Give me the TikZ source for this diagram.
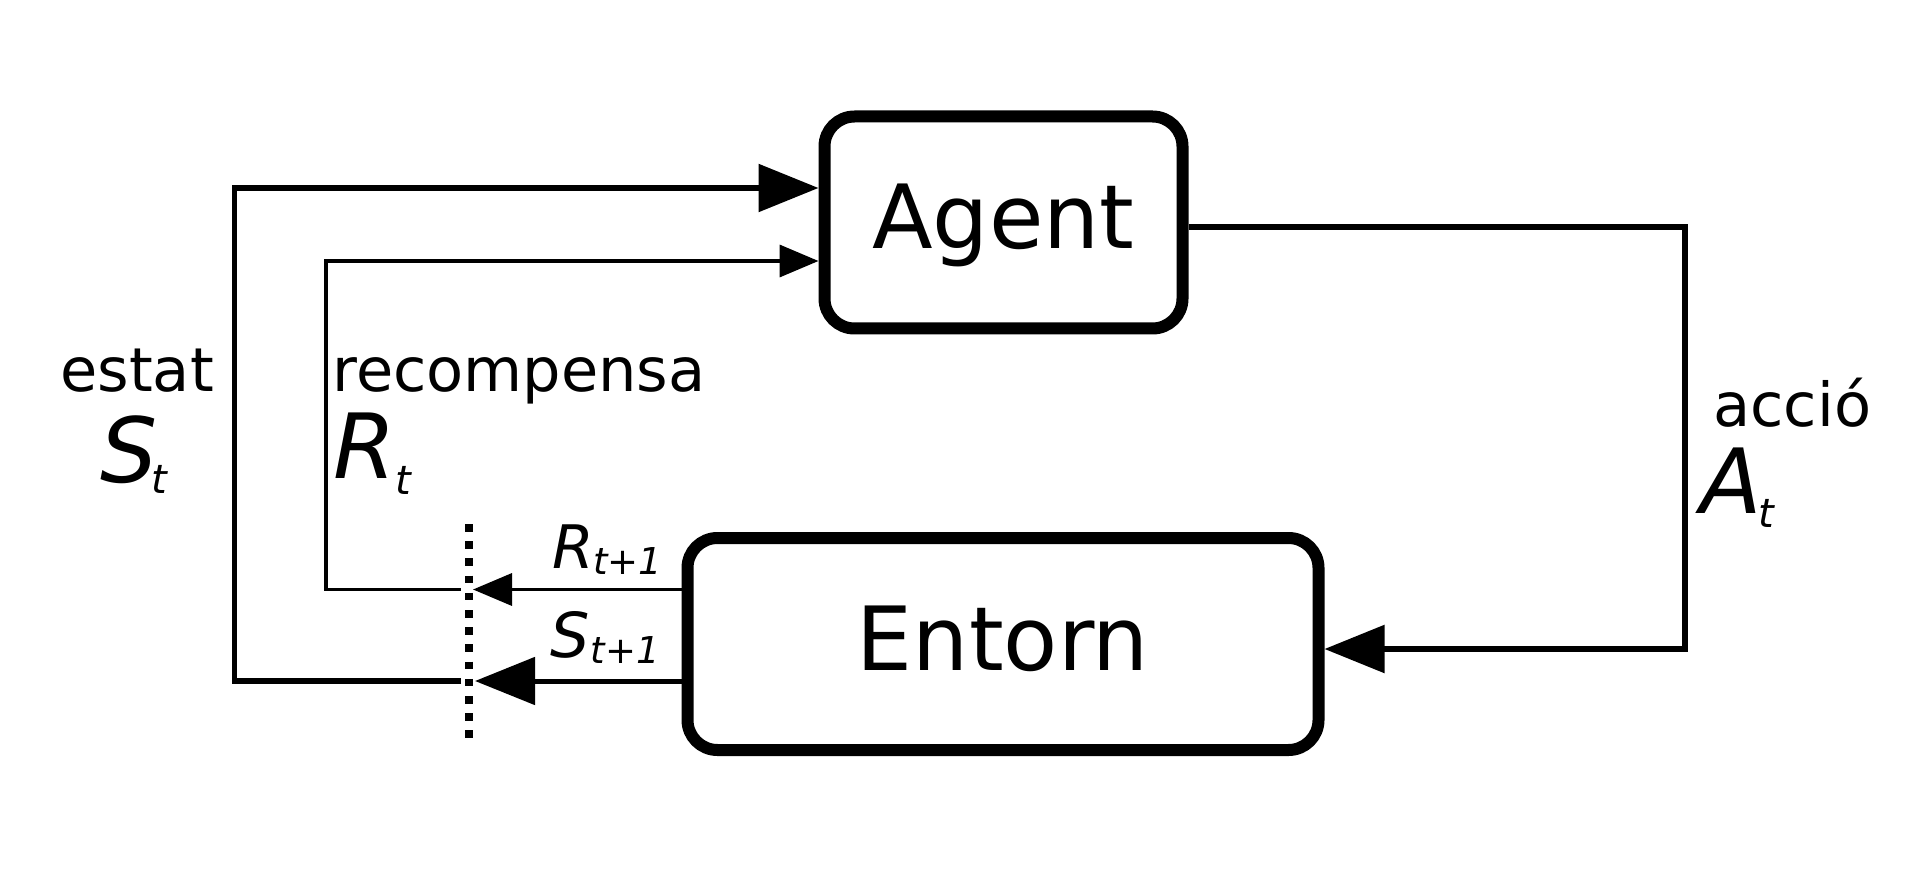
\documentclass[tikz,border=0pt]{standalone}
\usepackage{fontspec}
\setmainfont{DejaVu Sans}[ItalicFont={DejaVu Sans Oblique}]
\usetikzlibrary{arrows.meta}
\newcommand{\rlsym}[6]{{\itshape\fontsize{#5}{#5}\selectfont #1\kern#3\raisebox{-#4}{\fontsize{#6}{#6}\selectfont #2}}}
\begin{document}
\begin{tikzpicture}[x=0.5pt,y=-0.5pt,
  box/.style={draw, line width=6pt, rounded corners=15pt, minimum height=106pt,
    inner sep=0pt, text height=26.5pt, text depth=0pt,
    font=\fontsize{44.3pt}{44.3pt}\selectfont},
  word/.style={anchor=base west, inner sep=0pt, font=\fontsize{30.3pt}{30.3pt}\selectfont},
  sym/.style={anchor=base west, inner sep=0pt},
  bigtip/.style={-{Triangle[length=30pt,width=23.5pt]}},
  smalltip/.style={-{Triangle[length=19.5pt,width=16pt]}},
  thick line/.style={line width=2.8pt},
  thin line/.style={line width=1.8pt},
  cutline/.style={line width=4.2pt, dash pattern=on 3.8pt off 4.8pt},
]
\useasboundingbox (0,0) rectangle (1920,871);

% boxes
\node[box, minimum width=179pt] (agent) at (1003.5,222.5) {Agent};
\node[box, minimum width=315.5pt] (env) at (1003,644) {Entorn};

% helper coordinates
\coordinate (cutR) at (461,589.5);
\coordinate (cutS) at (461,681);
\coordinate (tipR) at (473,589.5);
\coordinate (tipS) at (475,681);
\coordinate (sTop) at (234.5,188);
\coordinate (rTop) at (325.7,261);
\coordinate (aTop) at (1685,227);
\coordinate (aBot) at (1685,649);
\coordinate (cutTop) at (469,524);
\coordinate (cutBot) at (469,740);

% dotted separation line
\draw[cutline] (cutTop) -- (cutBot);

% environment outputs
\draw[thin line, smalltip] (env.west |- tipR) -- (tipR);
\draw[line width=2.5pt, bigtip] (env.west |- tipS) -- (tipS);

% feedback to agent
\draw[thick line, bigtip] (cutS) -| (sTop) -- (sTop -| agent.west);
\draw[thin line, smalltip] (cutR) -| (rTop) -- (rTop -| agent.west);

% action
\draw[thick line, bigtip] (agent.east |- aTop) -- (aTop) -- (aBot) -- (aBot -| env.east);

% labels
\node[word] (estat) at (60,392) {estat};
\node[word] (recomp) at (332,392) {recompensa};
\node[word] (accio) at (1713,426) {acció};
\node[sym] (St) at (100,482) {\rlsym{S}{t}{-3pt}{5.5pt}{45pt}{20pt}};
\node[sym] (Rt) at (333,478) {\rlsym{R}{t}{0pt}{8pt}{45pt}{20pt}};
\node[sym] (At) at (1700,513) {\rlsym{A}{t}{-1.5pt}{7pt}{45pt}{20pt}};
\node[sym] (Rt1) at (552,568) {\rlsym{R}{t+1}{-0.5pt}{3pt}{30pt}{18.5pt}};
\node[sym] (St1) at (550,657) {\rlsym{S}{t+1}{0.5pt}{3pt}{31pt}{18.5pt}};
\end{tikzpicture}
\end{document}
